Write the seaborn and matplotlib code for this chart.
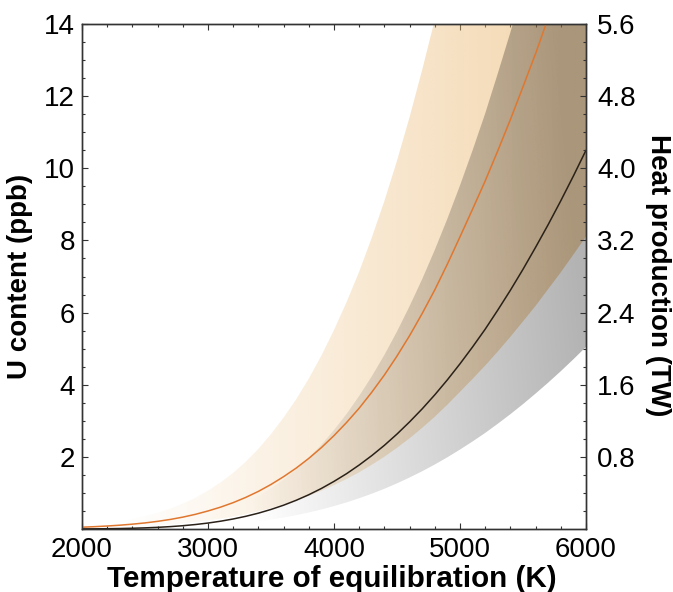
import numpy as np
import pandas as pd
import matplotlib
matplotlib.use("Agg")
import matplotlib.pyplot as plt
from matplotlib.colors import to_rgb
from matplotlib.ticker import MultipleLocator, FixedLocator
import seaborn as sns

# ---------------- data ----------------
temperature = [2000, 2100, 2200, 2300, 2400, 2500, 2600, 2700, 2800, 2900,
               3000, 3100, 3200, 3300, 3400, 3500, 3600, 3700, 3800, 3900,
               4000, 4100, 4200, 4300, 4400, 4500, 4600, 4700, 4800, 4900,
               5000, 5100, 5200, 5300, 5400, 5500, 5600, 5700, 5800, 5900, 6000]
# orange model (ppb): central curve and band limits
orange_mid = [0.050, 0.0646, 0.083, 0.1054, 0.134, 0.1686, 0.212, 0.2645, 0.329, 0.4066,
              0.50, 0.6065, 0.731, 0.8768, 1.043, 1.235, 1.451, 1.689, 1.958, 2.257,
              2.59, 2.954, 3.35, 3.793, 4.27, 4.795, 5.36, 5.975, 6.63, 7.345,
              8.10, 8.869, 9.65, 10.486, 11.35, 12.26, 13.18, 14.17, 15.16, 16.21, 17.27]
orange_high = [0.1065, 0.1376, 0.1768, 0.2245, 0.2854, 0.3591, 0.4516, 0.5634, 0.7008, 0.8661,
               1.065, 1.292, 1.557, 1.868, 2.222, 2.631, 3.091, 3.598, 4.171, 4.807,
               5.517, 6.292, 7.136, 8.079, 9.095, 10.21, 11.42, 12.73, 14.12, 15.64,
               17.25, 18.89, 20.55, 22.34, 24.18, 26.11, 28.07, 30.18, 32.29, 34.53, 36.79]
orange_low = [0.0235, 0.0303, 0.0390, 0.0495, 0.0629, 0.0792, 0.0995, 0.1242, 0.1545, 0.1909,
              0.2347, 0.2847, 0.3432, 0.4116, 0.4897, 0.5798, 0.6812, 0.7930, 0.9192, 1.060,
              1.216, 1.387, 1.573, 1.781, 2.005, 2.251, 2.516, 2.805, 3.113, 3.448,
              3.803, 4.164, 4.531, 4.923, 5.329, 5.756, 6.188, 6.653, 7.117, 7.610, 8.108]
# grey model (ppb): central curve and band limits
gray_mid = [0.0026, 0.0047, 0.0081, 0.0132, 0.0208, 0.0315, 0.046, 0.0658, 0.091, 0.124,
            0.165, 0.216, 0.278, 0.352, 0.439, 0.542, 0.660, 0.796, 0.950, 1.124,
            1.32, 1.534, 1.774, 2.035, 2.32, 2.632, 2.97, 3.331, 3.72, 4.136,
            4.58, 5.048, 5.54, 6.070, 6.62, 7.200, 7.81, 8.440, 9.10, 9.787, 10.5]
gray_high = [0.0054, 0.0098, 0.0168, 0.0275, 0.0433, 0.0655, 0.0957, 0.1369, 0.1893, 0.2579,
             0.3432, 0.4493, 0.5782, 0.7322, 0.9131, 1.127, 1.373, 1.656, 1.976, 2.338,
             2.746, 3.191, 3.690, 4.233, 4.826, 5.475, 6.178, 6.928, 7.738, 8.603,
             9.526, 10.50, 11.52, 12.63, 13.77, 14.98, 16.24, 17.56, 18.93, 20.36, 21.84]
gray_low = [0.0013, 0.0023, 0.0039, 0.0063, 0.0100, 0.0151, 0.0221, 0.0316, 0.0438, 0.0596,
            0.0793, 0.1038, 0.1337, 0.1692, 0.2111, 0.2606, 0.3173, 0.3827, 0.4567, 0.5404,
            0.6346, 0.7375, 0.8529, 0.9784, 1.115, 1.265, 1.428, 1.601, 1.788, 1.988,
            2.202, 2.427, 2.663, 2.918, 3.183, 3.462, 3.755, 4.058, 4.375, 4.705, 5.048]

x_ticks = [2000, 3000, 4000, 5000, 6000]
y_ticks = [2, 4, 6, 8, 10, 12, 14]
y2_ticks = [0.8, 1.6, 2.4, 3.2, 4.0, 4.8, 5.6]
y2_labels = ["0.8", "1.6", "2.4", "3.2", "4.0", "4.8", "5.6"]

df = pd.DataFrame({"T": temperature, "orange": orange_mid, "gray": gray_mid})

# ---------------- style ----------------
sns.set_theme(style="ticks")
plt.rcParams["font.family"] = ["Liberation Sans", "DejaVu Sans"]
plt.rcParams["text.color"] = "black"
plt.rcParams["axes.labelcolor"] = "black"
plt.rcParams["xtick.color"] = "black"
plt.rcParams["ytick.color"] = "black"

FS = 20
fig = plt.figure(figsize=(6.73, 5.92), dpi=100)
ax = fig.add_axes([82 / 673, 1 - 529 / 592, 504 / 673, 505 / 592])
ax.set_facecolor("white")

# gradient images clipped to the bands
gx = np.linspace(2000, 6000, 600)
gy = np.linspace(0, 14, 500)
GX, GY = np.meshgrid(gx, gy)

a_or = 0.58 * np.clip((GX - 2300) / 3600, 0, 1)
img_or = np.zeros(GX.shape + (4,))
img_or[..., :3] = to_rgb("#ebb973")
img_or[..., 3] = a_or

a_gr = 0.30 * np.clip((GX - 3200) / 2800 + 0.01 * (GY - 5), 0, 1)
img_gr = np.zeros(GX.shape + (4,))
img_gr[..., 3] = a_gr

band_or = ax.fill_between(temperature, orange_low, orange_high,
                          facecolor="none", edgecolor="none")
band_gr = ax.fill_between(temperature, gray_low, gray_high,
                          facecolor="none", edgecolor="none")

im1 = ax.imshow(img_or, extent=[2000, 6000, 0, 14], origin="lower",
                aspect="auto", interpolation="bilinear", zorder=1)
im1.set_clip_path(band_or.get_paths()[0], transform=ax.transData)
im2 = ax.imshow(img_gr, extent=[2000, 6000, 0, 14], origin="lower",
                aspect="auto", interpolation="bilinear", zorder=2)
im2.set_clip_path(band_gr.get_paths()[0], transform=ax.transData)

sns.lineplot(data=df, x="T", y="orange", ax=ax, color="#e0772f", lw=1.1, zorder=4)
sns.lineplot(data=df, x="T", y="gray", ax=ax, color="#2a2118", lw=1.1, zorder=4)

ax.set_xlim(2000, 6000)
ax.set_ylim(0, 14)

# ticks
ax.xaxis.set_major_locator(FixedLocator(x_ticks))
ax.xaxis.set_minor_locator(MultipleLocator(200))
ax.yaxis.set_major_locator(FixedLocator(y_ticks))
ax.yaxis.set_minor_locator(MultipleLocator(0.5))
ax.set_xticklabels([str(t) for t in x_ticks])
ax.set_yticklabels([str(t) for t in y_ticks])
ax.tick_params(which="both", direction="in", top=True, right=False,
               width=0.8, color="#333333", labelsize=FS, labelcolor="black")
ax.tick_params(which="major", length=4.0)
ax.tick_params(which="minor", length=2.3)
ax.tick_params(axis="x", pad=6)
ax.tick_params(axis="y", pad=5)

ax2 = ax.twinx()
ax2.set_ylim(0, 5.6)
ax2.yaxis.set_major_locator(FixedLocator(y2_ticks))
ax2.yaxis.set_minor_locator(MultipleLocator(0.2))
ax2.set_yticklabels(y2_labels)
ax2.tick_params(which="both", direction="in", width=0.8, color="#333333",
                labelsize=FS, pad=8, labelcolor="black")
ax2.tick_params(which="major", length=4.0)
ax2.tick_params(which="minor", length=2.3)

for a in (ax, ax2):
    for s in a.spines.values():
        s.set_color("#333333")
        s.set_linewidth(1.0)
        s.set_visible(True)

ax.set_xlabel("Temperature of equilibration (K)", fontsize=21.3, fontweight="bold")
ax.set_ylabel("U content (ppb)", fontsize=FS, fontweight="bold")
ax2.set_ylabel("Heat production (TW)", fontsize=FS, fontweight="bold", rotation=270,
               va="bottom")
ax.xaxis.set_label_coords(0.496, -0.072)
ax.yaxis.set_label_coords(-0.098, 0.5)
ax2.yaxis.set_label_coords(1.118, 0.503)

fig.savefig("out.png", dpi=100)
